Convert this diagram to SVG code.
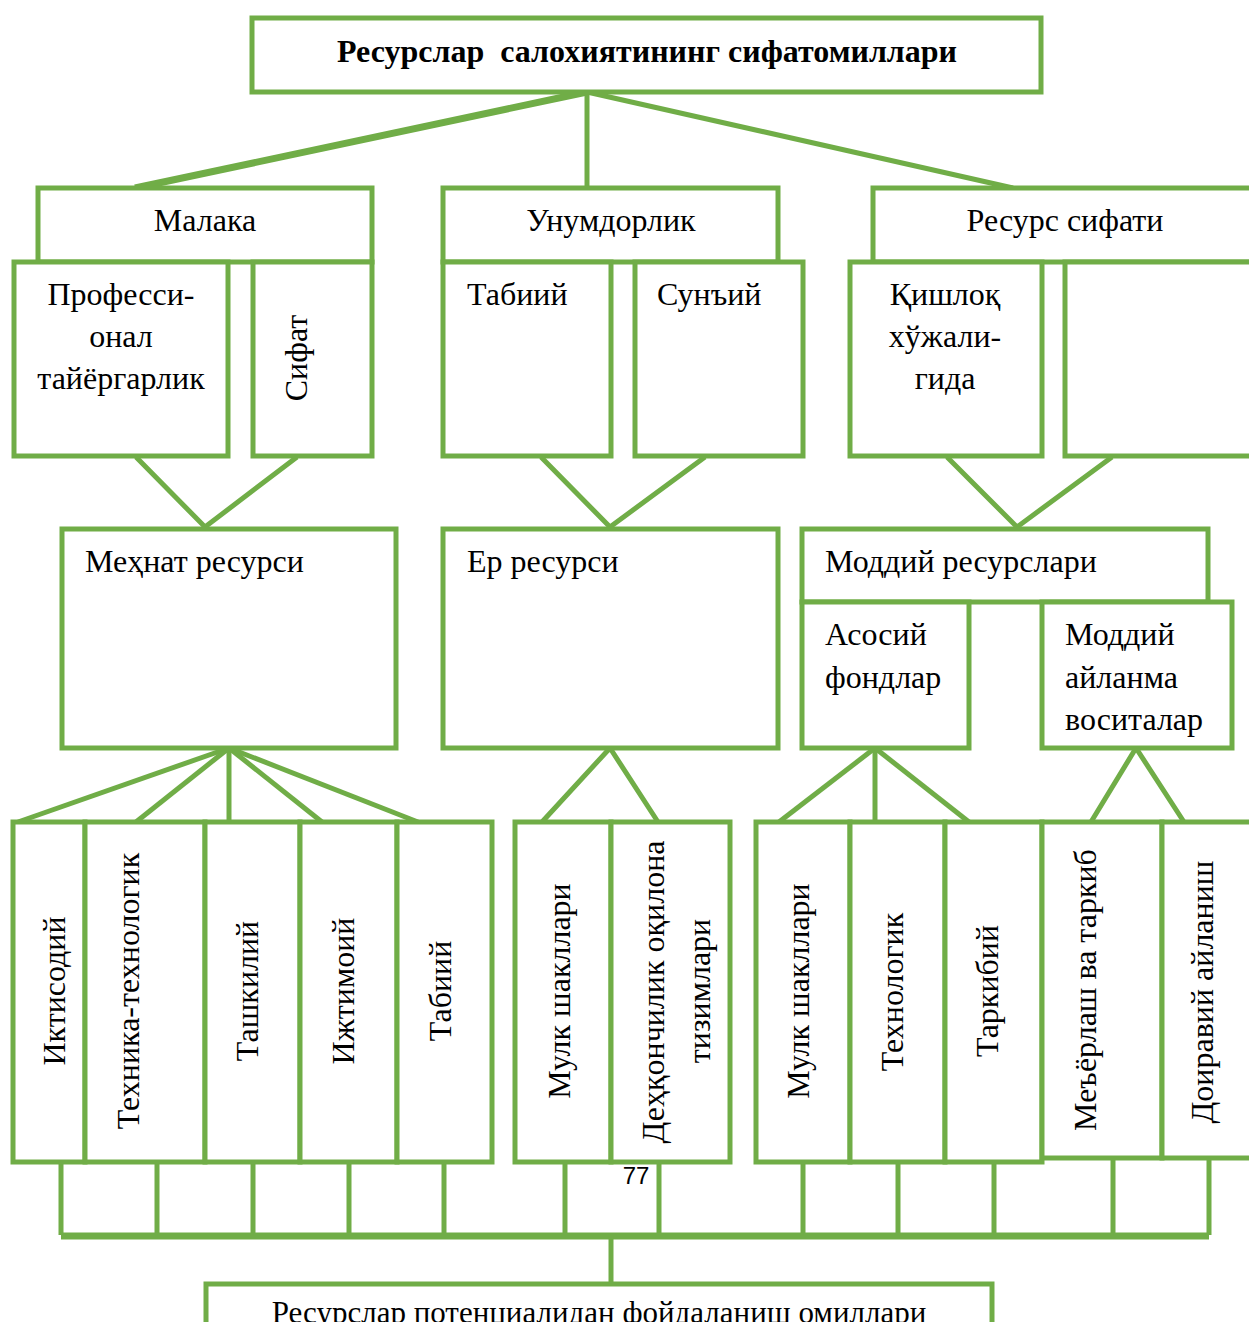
<svg xmlns="http://www.w3.org/2000/svg" width="1249" height="1322" viewBox="0 0 1249 1322">
<style>
.b{fill:#fff;stroke:#70AD47;stroke-width:5}
.c{fill:none;stroke:#70AD47;stroke-width:5;stroke-linecap:butt}
.ct{fill:none;stroke:#70AD47;stroke-width:7}
.t{font-family:"Liberation Serif","Times New Roman",serif;font-size:32px;fill:#000}
.m{text-anchor:middle}
.h{font-weight:bold;font-size:32px}
.s{font-size:31px}
</style>
<rect width="1249" height="1322" fill="#fff"/>
<g id="connectors">
<line class="ct" x1="587" y1="92" x2="135" y2="188"/>
<line class="c" x1="587" y1="92" x2="587" y2="188"/>
<line class="c" x1="587" y1="92" x2="1013" y2="188"/>
<polyline class="c" points="136,457 205,527 297,457"/>
<polyline class="c" points="541,457 610,527 705,457"/>
<polyline class="c" points="947,457 1017,527 1112,457"/>
<line class="c" x1="229" y1="748" x2="18" y2="822"/>
<line class="c" x1="229" y1="748" x2="136" y2="822"/>
<line class="c" x1="229" y1="748" x2="229" y2="822"/>
<line class="c" x1="229" y1="748" x2="322" y2="822"/>
<line class="c" x1="229" y1="748" x2="418" y2="822"/>
<polyline class="c" points="542,822 610,748 658,822"/>
<line class="c" x1="875" y1="748" x2="779" y2="822"/>
<line class="c" x1="875" y1="748" x2="875" y2="822"/>
<line class="c" x1="875" y1="748" x2="969" y2="822"/>
<polyline class="c" points="1091,822 1136,748 1184,822"/>
<path class="c" d="M61,1162V1235M157,1162V1235M253,1162V1235M349,1162V1235M444,1162V1235M565,1162V1235M659,1162V1235M803,1162V1235M898,1162V1235M994,1162V1235M1113,1158V1235M1209,1158V1235"/>
<line class="ct" x1="61" y1="1236" x2="1209" y2="1236"/>
<line class="c" x1="611" y1="1236" x2="611" y2="1284"/>
</g>
<g id="n-title"><rect class="b" x="252" y="18" width="789" height="74"/><text class="t h m" x="647" y="62" xml:space="preserve">Ресурслар  салохиятининг сифатомиллари</text></g>
<g id="n-malaka"><rect class="b" x="38" y="188" width="334" height="74"/><text class="t m" x="205" y="231">Малака</text></g>
<g id="n-unumdorlik"><rect class="b" x="443" y="188" width="335" height="74"/><text class="t m" x="611" y="231">Унумдорлик</text></g>
<g id="n-resurs-sifati"><rect class="b" x="873" y="188" width="400" height="74"/><text class="t m" x="1065" y="231">Ресурс сифати</text></g>
<g id="n-prof"><rect class="b" x="14" y="262" width="214" height="194"/><text class="t m" x="121" y="305">Професси-</text><text class="t m" x="121" y="347">онал</text><text class="t m" x="121" y="389">тайёргарлик</text></g>
<g id="n-sifat"><rect class="b" x="253" y="262" width="119" height="194"/><text class="t m" transform="translate(307,358) rotate(-90)">Сифат</text></g>
<g id="n-tabiiy1"><rect class="b" x="443" y="262" width="168" height="194"/><text class="t" x="467" y="305">Табиий</text></g>
<g id="n-sunyi"><rect class="b" x="635" y="262" width="168" height="194"/><text class="t" x="657" y="305">Сунъий</text></g>
<g id="n-qishloq"><rect class="b" x="850" y="262" width="192" height="194"/><text class="t m" x="945" y="305">Қишлоқ</text><text class="t m" x="945" y="347">хўжали-</text><text class="t m" x="945" y="389">гида</text></g>
<g id="n-empty"><rect class="b" x="1065" y="262" width="200" height="194"/></g>
<g id="n-mehnat"><rect class="b" x="62" y="529" width="334" height="219"/><text class="t" x="85" y="572">Меҳнат ресурси</text></g>
<g id="n-er"><rect class="b" x="443" y="529" width="335" height="219"/><text class="t" x="467" y="572">Ер ресурси</text></g>
<g id="n-moddiy"><rect class="b" x="802" y="529" width="406" height="73"/><text class="t" x="825" y="572">Моддий ресурслари</text></g>
<g id="n-asosiy"><rect class="b" x="802" y="602" width="167" height="146"/><text class="t" x="825" y="645">Асосий</text><text class="t" x="825" y="688">фондлар</text></g>
<g id="n-aylanma"><rect class="b" x="1042" y="602" width="190" height="146"/><text class="t" x="1065" y="645">Моддий</text><text class="t" x="1065" y="688">айланма</text><text class="t" x="1065" y="730">воситалар</text></g>
<g id="n-iqtisodiy"><rect class="b" x="13" y="822" width="72" height="340"/><text class="t m" transform="translate(65,991) rotate(-90)">Иктисодий</text></g>
<g id="n-texnika"><rect class="b" x="85" y="822" width="120" height="340"/><text class="t m" transform="translate(139,991) rotate(-90)">Техника-технологик</text></g>
<g id="n-tashkiliy"><rect class="b" x="205" y="822" width="95" height="340"/><text class="t m" transform="translate(258,991) rotate(-90)">Ташкилий</text></g>
<g id="n-ijtimoiy"><rect class="b" x="300" y="822" width="97" height="340"/><text class="t m" transform="translate(354,991) rotate(-90)">Ижтимоий</text></g>
<g id="n-tabiiy2"><rect class="b" x="397" y="822" width="95" height="340"/><text class="t m" transform="translate(451,991) rotate(-90)">Табиий</text></g>
<g id="n-mulk1"><rect class="b" x="515" y="822" width="96" height="340"/><text class="t m" transform="translate(570,991) rotate(-90)">Мулк шакллари</text></g>
<g id="n-dehqon"><rect class="b" x="611" y="822" width="119" height="340"/><text class="t m" transform="translate(664,992) rotate(-90)">Деҳқончилик оқилона</text><text class="t m" transform="translate(710,991) rotate(-90)">тизимлари</text></g>
<g id="n-mulk2"><rect class="b" x="756" y="822" width="94" height="340"/><text class="t m" transform="translate(809,991) rotate(-90)">Мулк шакллари</text></g>
<g id="n-texnologik"><rect class="b" x="850" y="822" width="95" height="340"/><text class="t m" transform="translate(903,992) rotate(-90)">Технологик</text></g>
<g id="n-tarkibiy"><rect class="b" x="945" y="822" width="97" height="340"/><text class="t m" transform="translate(998,991) rotate(-90)">Таркибий</text></g>
<g id="n-meyorlash"><rect class="b" x="1042" y="822" width="120" height="336"/><text class="t m" transform="translate(1096,990) rotate(-90)">Меъёрлаш ва таркиб</text></g>
<g id="n-doiraviy"><rect class="b" x="1162" y="822" width="110" height="336"/><text class="t m" transform="translate(1213,992) rotate(-90)">Доиравий айланиш</text></g>
<text x="636" y="1184" text-anchor="middle" font-family="Liberation Sans, Arial, sans-serif" font-size="24">77</text>
<g id="n-bottom"><rect class="b" x="206" y="1284" width="786" height="70"/><text class="t s m" x="599" y="1323">Ресурслар потенциалидан фойдаланиш омиллари</text></g>
</svg>
